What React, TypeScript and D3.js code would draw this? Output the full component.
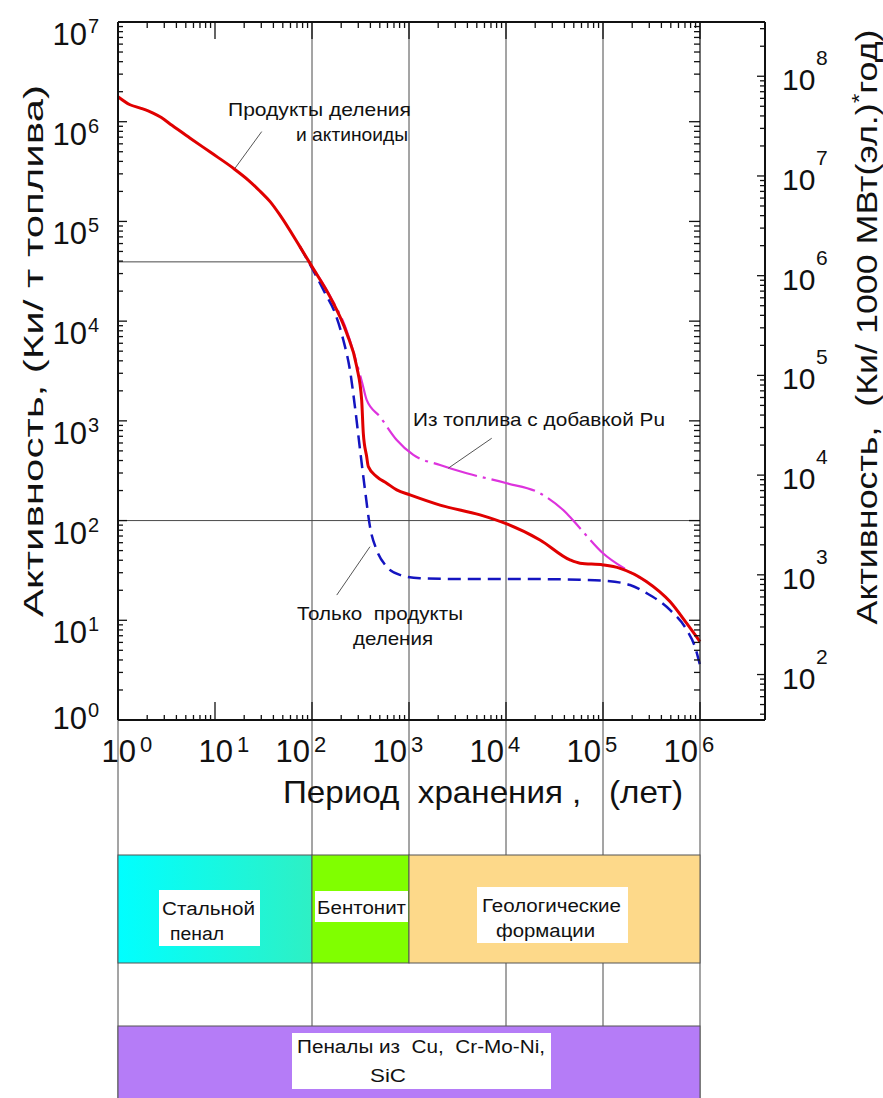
import React from 'react';
import * as d3 from 'd3';

// ---- Data ----
// Fission products + actinides (red, solid)
const redYears = [1, 1.33, 1.7, 2.3, 2.8, 3.6, 5.5, 9, 15.3, 22, 29, 37, 47, 75, 100, 153, 228, 289, 325, 338, 366, 381, 464, 589, 747, 1024, 2090, 5400, 10170, 22400, 45700, 58000, 1.0e5, 1.5e5, 2.82e5, 4.9e5, 7.3e5, 1e6];
const redActivity = [1.78e6, 1.48e6, 1.37e6, 1.22e6, 1.1e6, 9.2e5, 6.88e5, 4.93e5, 3.44e5, 2.6e5, 2.02e5, 1.58e5, 1.15e5, 5.59e4, 3.52e4, 1.76e4, 7.56e3, 3.5e3, 1.62e3, 750, 438, 347, 276, 237, 203, 181, 143, 114, 92.5, 63.9, 40.3, 37.3, 35.9, 33.2, 24.4, 15.4, 9.3, 6.1];
// Fuel with Pu addition (magenta, dash-dot)
const puYears = [100, 153, 228, 289, 330, 366, 502, 747, 1108, 2090, 3935, 10170, 22400, 42300, 58000, 1.0e5, 1.75e5, 2.82e5];
const puActivity = [3.52e4, 1.8e4, 8.0e3, 3.8e3, 2.38e3, 1.62e3, 1.1e3, 643, 455, 361, 298, 237, 188, 118, 83.7, 47, 32, 24.4];
// Fission products only (blue, dashed)
const fpYears = [75, 100, 136, 173, 210, 246, 277, 313, 352, 396, 464, 589, 808, 1298, 3000, 10000, 58000, 1.0e5, 1.9e5, 2.82e5, 4.9e5, 7.3e5, 8.88e5, 1e6];
const fpActivity = [5.59e4, 3.4e4, 1.92e4, 1.2e4, 6.5e3, 3.24e3, 1.39e3, 511, 203, 86.9, 50.7, 34.5, 28.5, 26.4, 26, 26, 25.5, 25, 22.6, 18.7, 12.7, 8.0, 5.4, 3.56];

const xDecades = [0, 1, 2, 3, 4, 5, 6];
const yDecades = [0, 1, 2, 3, 4, 5, 6, 7];
const rightDecades = [2, 3, 4, 5, 6, 7, 8];
const rightFactor = 35; // Ci per t fuel -> Ci per 1000 MW(e)*year

const refLevelHigh = 3.93e4; // horizontal reference at 100 years
const refLevelLow = 100;

const boxes = [
  { from: 1, to: 100, fill: 'url(#cyanGrad)' },
  { from: 100, to: 1000, fill: '#80ff00' },
  { from: 1000, to: 1e6, fill: '#fdd98a' },
];

const FONT = '"Liberation Sans", Arial, Helvetica, sans-serif';

function logTicks(lo: number, hi: number) {
  const out: { v: number; major: boolean }[] = [];
  const n0 = Math.floor(Math.log10(lo));
  const n1 = Math.ceil(Math.log10(hi));
  for (let n = n0; n <= n1; n++) {
    for (let m = 1; m <= 9; m++) {
      const v = m * Math.pow(10, n);
      if (v >= lo * 0.9999 && v <= hi * 1.0001) out.push({ v, major: m === 1 });
    }
  }
  return out;
}

export default function App() {
  const X0 = 118, X1 = 700, XR = 765, Y0 = 720, Y1 = 22;
  const x = d3.scaleLog().domain([1, 1e6]).range([X0, X1]);
  const y = d3.scaleLog().domain([1, 1e7]).range([Y0, Y1]);
  const yR = d3.scaleLog().domain([rightFactor, 1e7 * rightFactor]).range([Y0, Y1]);

  const line = d3
    .line<[number, number]>()
    .x((d) => x(d[0]))
    .y((d) => y(d[1]))
    .curve(d3.curveMonotoneX);

  const redPath = line(redYears.map((t, i) => [t, redActivity[i]]))!;
  const puPath = line(puYears.map((t, i) => [t, puActivity[i]]))!;
  const fpPath = line(fpYears.map((t, i) => [t, fpActivity[i]]))!;

  const xt = logTicks(1, 1e6);
  const yt = logTicks(1, 1e7);
  const rt = logTicks(rightFactor, 1e7 * rightFactor);

  const rowTop = 855, rowBot = 963, purpleTop = 1026, bottom = 1098;
  const grid = '#4a4a4a';

  const leader = (a: [number, number], b: [number, number]) => (
    <line x1={x(a[0])} y1={y(a[1])} x2={x(b[0])} y2={y(b[1])} stroke="#555" strokeWidth={1} />
  );

  return (
    <svg
      width={883}
      height={1098}
      style={{ position: 'absolute', left: 0, top: 0, background: '#fff' }}
      fontFamily={FONT}
    >
      <defs>
        <linearGradient id="cyanGrad" x1="0" x2="1" y1="0" y2="0">
          <stop offset="0%" stopColor="#00ffff" />
          <stop offset="100%" stopColor="#2ef0c4" />
        </linearGradient>
      </defs>
      <rect x={0} y={0} width={883} height={1098} fill="#fff" />

      {/* vertical grid lines through plot and storage-barrier table */}
      {[100, 1e4, 1e5].map((t) => (
        <line key={'g' + t} x1={x(t)} x2={x(t)} y1={Y1} y2={bottom} stroke={grid} strokeWidth={1} />
      ))}
      <line x1={x(1000)} x2={x(1000)} y1={Y1} y2={rowBot} stroke={grid} strokeWidth={1} />
      {[1, 1e6].map((t) => (
        <line key={'e' + t} x1={x(t)} x2={x(t)} y1={Y0} y2={bottom} stroke={grid} strokeWidth={1} />
      ))}

      {/* horizontal reference lines */}
      <line x1={x(1)} x2={x(100)} y1={y(refLevelHigh)} y2={y(refLevelHigh)} stroke={grid} strokeWidth={1} />
      <line x1={x(1)} x2={x(1e6)} y1={y(refLevelLow)} y2={y(refLevelLow)} stroke={grid} strokeWidth={1} />

      {/* curves */}
      <path d={puPath} fill="none" stroke="#dd33dd" strokeWidth={2.2} strokeDasharray="45,6,3,6" />
      <path d={fpPath} fill="none" stroke="#1414c0" strokeWidth={2.5} strokeDasharray="13,7" />
      <path d={redPath} fill="none" stroke="#e00000" strokeWidth={3} />

      {/* leaders */}
      {leader([30.3, 7.96e5], [16.1, 3.42e5])}
      {leader([7126, 669], [2541, 335])}
      {leader([396, 54.7], [180, 17.9])}

      {/* annotations */}
      <g fontSize={19} fill="#111">
        <text x={228} y={116} textLength={183} lengthAdjust="spacingAndGlyphs">Продукты деления</text>
        <text x={296} y={141} textLength={112} lengthAdjust="spacingAndGlyphs">и актиноиды</text>
        <text x={413} y={426} textLength={252} lengthAdjust="spacingAndGlyphs">Из топлива с добавкой Pu</text>
        <text x={297} y={620} textLength={166} lengthAdjust="spacingAndGlyphs" style={{ whiteSpace: 'pre' }}>Только  продукты</text>
        <text x={353} y={645} textLength={80} lengthAdjust="spacingAndGlyphs">деления</text>
      </g>

      {/* frame / axes */}
      <g stroke="#111" strokeWidth={2} fill="none">
        <line x1={X0} x2={XR} y1={Y1} y2={Y1} />
        <line x1={X0} x2={XR} y1={Y0} y2={Y0} />
        <line x1={X0} x2={X0} y1={Y1} y2={Y0} />
        <line x1={XR} x2={XR} y1={Y1} y2={Y0} />
      </g>
      <line x1={X1} x2={X1} y1={Y1} y2={Y0} stroke="#222" strokeWidth={1.3} />

      {/* ticks */}
      <g stroke="#111" strokeWidth={1.3}>
        {xt.map((d, i) => (
          <g key={'xt' + i}>
            <line x1={x(d.v)} x2={x(d.v)} y1={Y0} y2={Y0 - (d.major ? 18 : 5)} />
            <line x1={x(d.v)} x2={x(d.v)} y1={Y1} y2={Y1 + (d.major ? 17 : 6)} />
          </g>
        ))}
        {yt.map((d, i) => (
          <g key={'yt' + i}>
            <line x1={X0} x2={X0 + (d.major ? 9 : 5)} y1={y(d.v)} y2={y(d.v)} />
            <line x1={X1} x2={X1 - (d.major ? 11 : 6)} y1={y(d.v)} y2={y(d.v)} />
          </g>
        ))}
        {rt.map((d, i) => (
          <line key={'rt' + i} x1={XR} x2={XR - (d.major ? 8 : 5)} y1={yR(d.v)} y2={yR(d.v)} />
        ))}
      </g>

      {/* left tick labels */}
      <g fill="#111">
        {yDecades.map((n) => {
          const yy = y(Math.pow(10, n)) + (n === 0 ? 9 : 23);
          return (
            <g key={'yl' + n}>
              <text x={87} y={yy} fontSize={31} textAnchor="end">10</text>
              <text x={88} y={yy - 12} fontSize={20}>{n}</text>
            </g>
          );
        })}
      </g>

      {/* bottom tick labels */}
      <g fill="#111">
        {xDecades.map((n) => {
          const xx = x(Math.pow(10, n)) + (n < 2 ? 18 : -2);
          return (
            <g key={'xl' + n}>
              <text x={xx} y={762} fontSize={31} textAnchor="end">10</text>
              <text x={xx + 4} y={752} fontSize={22}>{n}</text>
            </g>
          );
        })}
      </g>

      {/* right tick labels */}
      <g fill="#111">
        {rightDecades.map((n) => {
          const yy = yR(Math.pow(10, n)) + 14;
          return (
            <g key={'rl' + n}>
              <text x={782} y={yy} fontSize={30}>10</text>
              <text x={816} y={yy - 25} fontSize={21}>{n}</text>
            </g>
          );
        })}
      </g>

      {/* axis titles */}
      <text x={283} y={803} fontSize={32} fill="#111" textLength={400} lengthAdjust="spacingAndGlyphs" style={{ whiteSpace: 'pre' }}>
        Период  хранения ,   (лет)
      </text>
      <text
        transform="translate(43,351) rotate(-90)"
        fontSize={28}
        fill="#111"
        textAnchor="middle"
        textLength={532}
        lengthAdjust="spacingAndGlyphs"
      >
        Активность, (Ки/ т топлива)
      </text>
      <text
        transform="translate(877,327) rotate(-90)"
        fontSize={29}
        fill="#111"
        textAnchor="middle"
        textLength={595}
        lengthAdjust="spacingAndGlyphs"
        style={{ whiteSpace: 'pre' }}
      >
        {'Активность,  (Ки/ 1000 МВт(эл.)'}
        <tspan dy={-11} fontSize={20}>*</tspan>
        <tspan dy={11}>год)</tspan>
      </text>

      {/* storage barrier boxes */}
      {boxes.map((b, i) => (
        <rect key={'b' + i} x={x(b.from)} y={rowTop} width={x(b.to) - x(b.from)} height={rowBot - rowTop} fill={b.fill} stroke="#555" strokeWidth={1} />
      ))}
      <rect x={x(1)} y={purpleTop} width={x(1e6) - x(1)} height={bottom - purpleTop + 2} fill="#b57cf7" stroke="#555" strokeWidth={1} />

      {/* white label plates */}
      <rect x={159} y={890} width={101} height={56} fill="#fff" />
      <rect x={315} y={891} width={93} height={31} fill="#fff" />
      <rect x={477} y={887} width={151} height={56} fill="#fff" />
      <rect x={292} y={1033} width={259} height={56} fill="#fff" />

      <g fontSize={18} fill="#111">
        <text x={162} y={915} textLength={93} lengthAdjust="spacingAndGlyphs">Стальной</text>
        <text x={170} y={940} textLength={54} lengthAdjust="spacingAndGlyphs">пенал</text>
        <text x={317} y={914} textLength={89} lengthAdjust="spacingAndGlyphs">Бентонит</text>
        <text x={482} y={912} textLength={139} lengthAdjust="spacingAndGlyphs">Геологические</text>
        <text x={496} y={937} textLength={99} lengthAdjust="spacingAndGlyphs">формации</text>
        <text x={297} y={1053} textLength={248} lengthAdjust="spacingAndGlyphs" style={{ whiteSpace: 'pre' }}>Пеналы из  Cu,  Cr-Mo-Ni,</text>
        <text x={370} y={1082} textLength={36} lengthAdjust="spacingAndGlyphs">SiC</text>
      </g>
    </svg>
  );
}
